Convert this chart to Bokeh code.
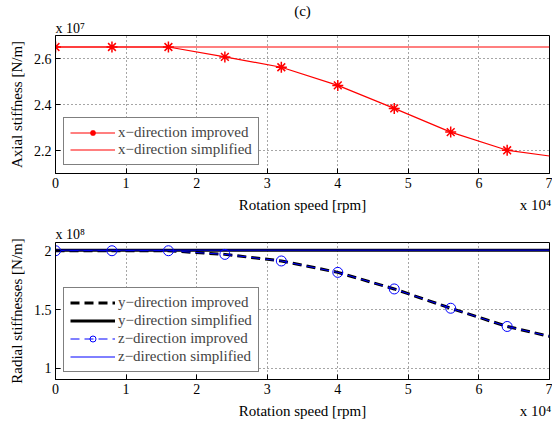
from bokeh.plotting import figure
from bokeh.layouts import column
from bokeh.models import (Range1d, FixedTicker, Title, Legend, LegendItem, LinearAxis)
from bokeh.embed import file_html
from bokeh.resources import INLINE

FONT = "Liberation Serif"

# ---- data (x in units of 1e4 rpm) ----
speed_markers = [0, 0.8, 1.6, 2.4, 3.2, 4.0, 4.8, 5.6, 6.4, 7.0]
# axial stiffness (x 1e7 N/m)
axial_improved = [2.65, 2.65, 2.65, 2.607, 2.562, 2.483, 2.383, 2.280, 2.201, 2.176]
axial_simplified = [2.65, 2.65]
speed_ends = [0, 7.0]
# radial stiffness (x 1e8 N/m)
radial_y_improved = [2.0, 2.0, 2.0, 1.969, 1.913, 1.816, 1.675, 1.511, 1.356, 1.272]
radial_z_improved = [2.0, 2.0, 2.0, 1.969, 1.913, 1.816, 1.675, 1.511, 1.356, 1.272]
radial_y_simplified = [2.005, 2.005]
radial_z_simplified = [2.005, 2.005]

x_ticks = [0, 1, 2, 3, 4, 5, 6, 7]
top_y_ticks = [2.2, 2.4, 2.6]
bot_y_ticks = [1, 1.5, 2]
bot_y_labels = {1: "1", 1.5: "1.5", 2: "2"}
x_label = "Rotation speed [rpm]"
x_scale = "x 10\u2074"


def style(p, yticks, overrides=None):
    p.outline_line_color = "black"
    p.outline_line_width = 1
    for ax in p.xaxis + p.yaxis:
        ax.major_tick_in = 5
        ax.major_tick_out = 0
        ax.minor_tick_line_color = None
        ax.major_label_text_font = FONT
        ax.major_label_text_font_size = "14px"
        ax.major_label_text_color = "black"
        ax.axis_label_text_font = FONT
        ax.axis_label_text_font_size = "15px"
        ax.axis_label_text_font_style = "normal"
        ax.axis_label_text_color = "black"
        ax.axis_line_color = "black"
        ax.major_tick_line_color = "black"
    p.xaxis.ticker = FixedTicker(ticks=x_ticks)
    p.yaxis.ticker = FixedTicker(ticks=yticks)
    p.xaxis.major_label_standoff = 4
    p.yaxis.major_label_standoff = 4
    p.yaxis.axis_label_standoff = 6
    if overrides:
        p.yaxis.major_label_overrides = overrides
    for g in (p.xgrid[0], p.ygrid[0]):
        g.grid_line_color = "black"
        g.grid_line_dash = "1 3"
        g.grid_line_alpha = 0.7
    p.xgrid.ticker = FixedTicker(ticks=x_ticks)
    p.ygrid.ticker = FixedTicker(ticks=yticks)
    # row with the x-axis title and the x scale factor
    lab = LinearAxis(ticker=FixedTicker(ticks=[3.5, 6.8]),
                     major_label_overrides={3.5: x_label, 6.8: x_scale},
                     axis_line_color=None, major_tick_line_color=None,
                     minor_tick_line_color=None, major_label_standoff=0,
                     major_label_text_font=FONT, major_label_text_font_size="15px",
                     major_label_text_color="black")
    p.add_layout(lab, "below")


def title(text, align, size="15px", standoff=0):
    return Title(text=text, align=align, text_font=FONT, text_font_size=size,
                 text_font_style="normal", text_color="black", standoff=standoff)


# ---------------- top plot ----------------
p1 = figure(frame_width=494, frame_height=138, output_backend="svg", toolbar_location=None,
            title=None, x_range=Range1d(0, 7), y_range=Range1d(2.1, 2.7),
            min_border_left=55, min_border_right=3, min_border_top=34, min_border_bottom=44)
p1.yaxis.axis_label = "Axial stiffness [N/m]"
style(p1, top_y_ticks)

r_imp_l = p1.line(speed_markers, axial_improved, line_color="red", line_width=1.2)
r_imp_m = p1.scatter(speed_markers[:-1], axial_improved[:-1], marker="asterisk", size=11,
                     line_color="red", line_width=1.5)
r_simp = p1.line(speed_ends, axial_simplified, line_color="red", line_width=1.2)

leg1 = Legend(items=[LegendItem(label="x\u2212direction improved", renderers=[r_imp_l, r_imp_m]),
                     LegendItem(label="x\u2212direction simplified", renderers=[r_simp])],
              location=(8, 8), label_text_font=FONT, label_text_font_size="15px",
              glyph_width=45, glyph_height=15, label_height=15, label_standoff=3,
              padding=6, spacing=0, margin=0, border_line_color="black", border_line_width=1.2,
              background_fill_alpha=1)
p1.add_layout(leg1, "center")

p1.add_layout(title("x 10\u2077", "left", "14px", 0), "above")
p1.add_layout(title("(c)", "center", "15px", 0), "above")

# ---------------- bottom plot ----------------
p2 = figure(frame_width=494, frame_height=137, output_backend="svg", toolbar_location=None,
            title=None, x_range=Range1d(0, 7), y_range=Range1d(0.905, 2.07),
            min_border_left=55, min_border_right=3, min_border_top=25, min_border_bottom=45)
p2.yaxis.axis_label = "Radial stiffnesses [N/m]"
style(p2, bot_y_ticks, bot_y_labels)

r_yi = p2.line(speed_markers, radial_y_improved, line_color="black", line_width=3,
               line_dash="9 5")
r_ys = p2.line(speed_ends, radial_y_simplified, line_color="black", line_width=3)
r_zi_l = p2.line(speed_markers, radial_z_improved, line_color="blue", line_width=1,
                 line_dash="9 5")
r_zi_m = p2.scatter(speed_markers[:-1], radial_z_improved[:-1], marker="circle", size=10,
                    line_color="blue", fill_color=None, line_width=1)
r_zs = p2.line(speed_ends, radial_z_simplified, line_color="blue", line_width=1)

leg2 = Legend(items=[LegendItem(label="y\u2212direction improved", renderers=[r_yi]),
                     LegendItem(label="y\u2212direction simplified", renderers=[r_ys]),
                     LegendItem(label="z\u2212direction improved", renderers=[r_zi_l, r_zi_m]),
                     LegendItem(label="z\u2212direction simplified", renderers=[r_zs])],
              location=(8, 7), label_text_font=FONT, label_text_font_size="15px",
              glyph_width=45, glyph_height=15, label_height=15, label_standoff=3,
              padding=6, spacing=1, margin=0, border_line_color="black", border_line_width=1.2,
              background_fill_alpha=1)
p2.add_layout(leg2, "center")

p2.add_layout(title("x 10\u2078", "left", "14px", 2), "above")

layout = column(p1, p2, spacing=0)
open("out.html", "w").write(file_html(layout, INLINE))
